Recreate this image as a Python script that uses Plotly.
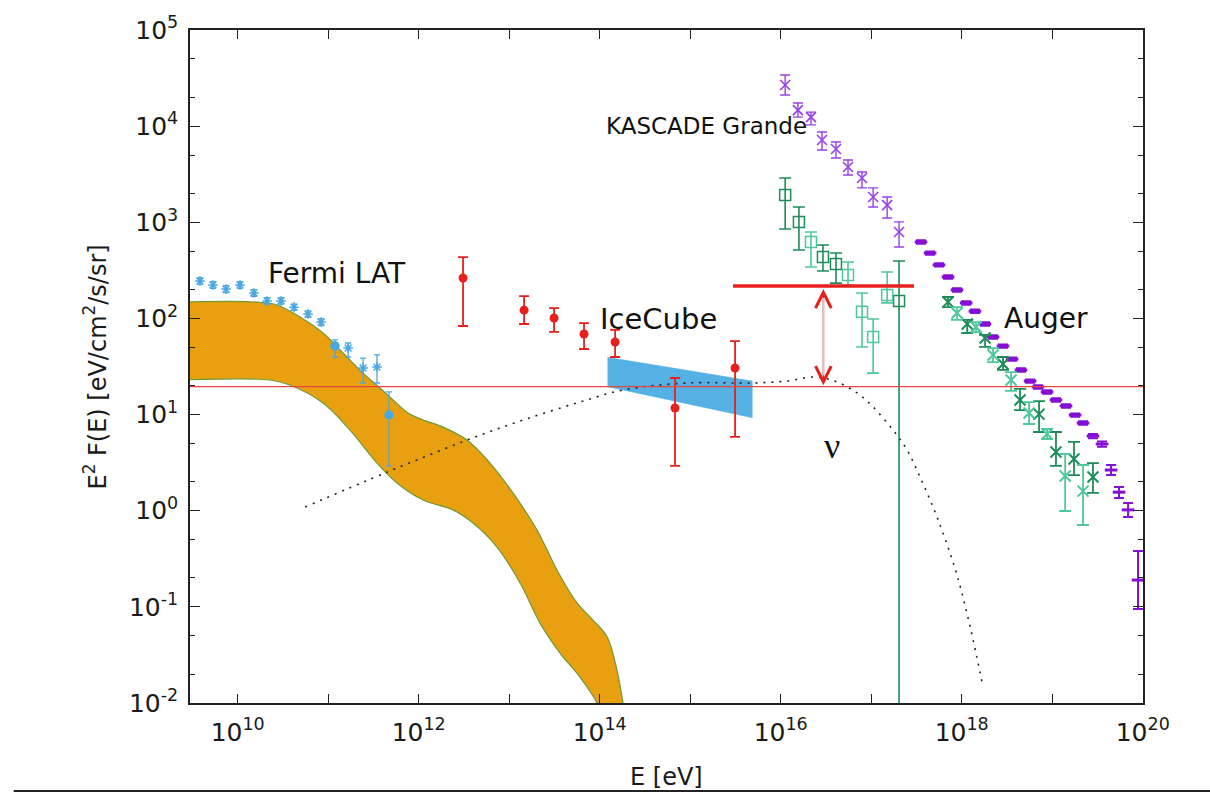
import numpy as np
import plotly.graph_objects as go

# ---------------- data ----------------
# Fermi LAT model band: upper and lower edges
fermi_up_E = [2.5e9, 1.63e10, 2.72e10, 4.88e10, 8.77e10, 1.46e11, 2.43e11, 3.73e11, 5.2e11, 7.43e11,
              1.12e12, 1.86e12, 3.42e12, 6.14e12, 1.10e13, 2.03e13, 3.37e13, 5.61e13, 8.43e13,
              1.21e14, 1.55e14, 1.81e14, 1.92e14]
fermi_up_F = [148, 148, 138, 103.5, 70.5, 43.7, 27, 18.9, 14.2, 10.6,
              8.77, 7.41, 5.43, 3.13, 1.53, 0.63, 0.242, 0.11, 0.0728,
              0.0485, 0.022, 0.01, 0.007]
fermi_lo_E = [2.5e9, 2.28e10, 3.78e10, 8.77e10, 1.74e11, 3.46e11, 5.75e11, 1.12e12, 2.39e12,
              3.98e12, 7.33e12, 1.32e13, 2.19e13, 3.64e13, 6.05e13, 9.33e13, 1.05e14]
fermi_lo_F = [22.9, 22.9, 20.3, 13.2, 6.9, 3.13, 1.94, 1.29, 1.02,
              0.745, 0.419, 0.177, 0.0678, 0.0331, 0.0186, 0.01, 0.007]

# Fermi LAT data points
fermi_E = [3.83e9, 5.33e9, 7.43e9, 1.06e10, 1.51e10, 2.11e10, 3.01e10, 4.19e10, 5.98e10, 8.34e10,
           1.19e11, 1.66e11, 2.43e11, 3.46e11, 4.70e11]
fermi_F = [245, 223, 202, 223, 184, 152, 152, 131, 111, 91.7, 51.6, 49.2, 30.5, 31.2, 9.9]
fermi_up = [20, 18, 17, 18, 15, 12, 12, 10, 9, 8, 8.1, 6.3, 8.2, 10.5, 7.3]
fermi_dn = [19, 17, 16, 17, 14, 11, 11, 9.5, 8.5, 7.5, 11.9, 9.5, 9.2, 9.9, 6.98]
fermi_sym = ["asterisk-open"] * 10 + ["circle", "asterisk-open", "asterisk-open", "asterisk-open", "circle"]

# IceCube data points
ice_E = [3.09e12, 1.46e13, 3.13e13, 6.71e13, 1.48e14, 6.79e14, 3.13e15]
ice_F = [263, 122, 101, 68.9, 56.9, 11.7, 30.5]
ice_up = [172, 49, 27, 20.6, 19.0, 12.3, 27.7]
ice_dn = [179.6, 34.5, 28.7, 20.8, 17.2, 8.78, 24.65]

# IceCube band
iceband_E = [1.22e14, 4.85e15]
iceband_up = [39.4, 22.3]
iceband_lo = [19.5, 9.27]

# neutrino model (dotted)
nu_E = [5.55e10, 4.47e11, 3.42e12, 1.42e13, 6.05e13, 1.81e14, 9.23e14, 4.94e15, 1.17e16, 2.39e16,
        4.19e16, 6.97e16, 1.05e17, 1.74e17, 2.49e17, 3.46e17, 4.82e17, 6.21e17, 8.87e17, 1.24e18, 1.72e18]
nu_F = [1.09, 2.52, 5.43, 8.77, 13.5, 18.0, 21.3, 21.3, 22.3, 24.6,
        21.8, 16.8, 12.0, 6.91, 4.28, 2.24, 1.09, 0.586, 0.214, 0.0617, 0.0147]

# KASCADE-Grande (purple x)
kgp_E = [1.12e16, 1.55e16, 2.16e16, 2.86e16, 4.08e16, 5.54e16, 7.91e16, 1.05e17, 1.50e17, 2.03e17]
kgp_F = [26800, 14700, 12400, 7180, 5780, 3760, 2890, 1830, 1510, 793]
kgp_up = [7200, 2700, 1600, 1510, 1060, 690, 450, 450, 320, 217]
kgp_dn = [5700, 2300, 2100, 1530, 1110, 660, 610, 390, 400, 240]

# KASCADE-Grande (green open squares)
kgg_E = [1.12e16, 1.59e16, 2.16e16, 2.93e16, 4.08e16, 5.54e16, 7.91e16, 1.05e17, 1.50e17, 2.03e17]
kgg_F = [1923, 1007, 624, 435, 368, 283, 117, 64.1, 175, 152]
kgg_up = [967, 436, 169, 146, 111, 103, 67, 34.5, 129, 243]
kgg_dn = [1072, 492, 281, 124, 135, 60, 66.5, 37.1, 30, 151.999]
kgg_dark = [1, 1, 0, 1, 1, 0, 0, 0, 0, 1]

# Auger (purple, dense)
augp_E = [3.55e17, 4.47e17, 5.61e17, 7.06e17, 8.87e17, 1.12e18, 1.40e18, 1.81e18, 2.22e18, 2.86e18,
          3.60e18, 4.52e18, 5.69e18, 6.97e18, 8.77e18, 1.10e19, 1.42e19, 1.79e19, 2.19e19, 2.82e19,
          3.55e19, 4.47e19, 5.47e19, 6.89e19, 8.87e19]
augp_F = [624, 479, 360, 270, 198, 145, 119, 87.5, 64.1, 51.6, 37.8, 29.1, 22.3, 19.4, 17.2, 14.2,
          12.3, 9.89, 8.17, 5.98, 4.94, 2.65, 1.56, 1.02, 0.190]
augp_up = [25, 19, 14, 11, 8, 6, 5, 3.5, 2.6, 2.1, 1.5, 1.2, 0.9, 0.8, 0.7, 0.6, 0.5, 0.4, 0.35,
           0.3, 0.3, 0.34, 0.20, 0.18, 0.191]
augp_dn = [25, 19, 14, 11, 8, 6, 5, 3.5, 2.6, 2.1, 1.5, 1.2, 0.9, 0.8, 0.7, 0.6, 0.5, 0.4, 0.35,
           0.3, 0.3, 0.3, 0.20, 0.16, 0.095]

# Auger (green)
augg_E = [7.06e17, 8.87e17, 1.15e18, 1.44e18, 1.81e18, 2.22e18, 2.86e18, 3.51e18, 4.41e18, 5.55e18,
          7.15e18, 8.77e18, 1.10e19, 1.39e19, 1.74e19, 2.19e19, 2.82e19]
augg_F = [148, 114, 87.5, 81.5, 62.5, 41.6, 33.6, 22.9, 14.2, 10.4, 10.1, 6.28, 4.08, 2.30, 3.45, 1.60, 2.24]
augg_up = [19, 17, 8.9, 10.1, 4.8, 7.6, 6.1, 4.8, 4.3, 3.1, 3.7, 0.8, 2.51, 1.59, 1.74, 1.39, 0.89]
augg_dn = [17, 17.6, 17, 9.3, 12, 6.4, 4.5, 5.3, 3.1, 2.42, 3.51, 0.71, 1.16, 1.307, 1.10, 0.89, 0.71]

# limits / reference lines
limit_E = [2.97e15, 2.97e17]
limit_F = 217
nu_level_F = 19.5
arrow_E = 2.96e16

# labels: (text, E, F, size, family)
SANS = "DejaVu Sans, Liberation Sans, sans-serif"
labels = [
    ("Fermi LAT", 1.25e11, 290, 28, SANS),
    ("IceCube", 4.41e14, 98.6, 29, SANS),
    ("KASCADE Grande", 1.50e15, 1.0e4, 23, SANS),
    ("Auger", 8.55e18, 101, 28, SANS),
    ("ν", 3.69e16, 4.71, 36, "Liberation Serif, serif"),
]

x_range = [9.473, 20.003]
y_range = [-2, 5]
x_major = [10.0 ** k for k in range(10, 21)]
x_text = ["10<sup>%d</sup>" % k if k % 2 == 0 else "" for k in range(10, 21)]
y_major = [10.0 ** k for k in range(-2, 6)]
y_text = ["10<sup>%d</sup>" % k for k in range(-2, 6)]
y_minor = [m * 10.0 ** k for k in range(-2, 5) for m in (2, 5)]

# ---------------- colours ----------------
ORANGE = "#E9A010"
BAND_EDGE = "#6E9A36"
LBLUE = "#4AA8E0"
ICEBLUE = "#55B0E4"
RED = "#E8201C"
PURP_K = "#9B3FE8"
PURP_A = "#8410D4"
GREEN_D = "#1E8C5A"
GREEN_L = "#4DC79B"

fig = go.Figure()

# Fermi band
fig.add_trace(go.Scatter(
    x=list(fermi_up_E) + list(fermi_lo_E)[::-1],
    y=list(fermi_up_F) + list(fermi_lo_F)[::-1],
    mode="lines", fill="toself", fillcolor=ORANGE, line_shape="spline",
    line=dict(color=BAND_EDGE, width=1.2, smoothing=1.0), hoverinfo="skip"))

# IceCube band
fig.add_trace(go.Scatter(
    x=list(iceband_E) + list(iceband_E)[::-1],
    y=list(iceband_up) + list(iceband_lo)[::-1],
    mode="lines", fill="toself", fillcolor=ICEBLUE,
    line=dict(color=ICEBLUE, width=0.5), hoverinfo="skip"))

# neutrino model dotted curve
fig.add_trace(go.Scatter(x=nu_E, y=nu_F, mode="lines", line_shape="spline",
                         line=dict(color="#222222", width=1.6, dash="2px,6px")))

def err(up, dn, color, w=4, t=1.5):
    return dict(type="data", symmetric=False, array=up, arrayminus=dn,
                color=color, thickness=t, width=w)

# Fermi points
fig.add_trace(go.Scatter(x=fermi_E, y=fermi_F, mode="markers",
                         marker=dict(symbol=fermi_sym, size=8, color=LBLUE,
                                     line=dict(color=LBLUE, width=1.5)),
                         error_y=err(fermi_up, fermi_dn, LBLUE, 3, 1.3)))

# IceCube points
fig.add_trace(go.Scatter(x=ice_E, y=ice_F, mode="markers",
                         marker=dict(symbol="circle", size=9, color=RED),
                         error_y=err(ice_up, ice_dn, RED, 5, 1.8)))

# KASCADE-Grande purple
fig.add_trace(go.Scatter(x=kgp_E, y=kgp_F, mode="markers",
                         marker=dict(symbol="x-thin-open", size=10, color=PURP_K,
                                     line=dict(color=PURP_K, width=1.6)),
                         error_y=err(kgp_up, kgp_dn, PURP_K, 5, 1.4)))

# KASCADE-Grande green (dark and light)
for flag, col in ((1, GREEN_D), (0, GREEN_L)):
    idx = [i for i, d in enumerate(kgg_dark) if d == flag]
    fig.add_trace(go.Scatter(
        x=[kgg_E[i] for i in idx], y=[kgg_F[i] for i in idx], mode="markers",
        marker=dict(symbol="square-open", size=11, color=col, line=dict(color=col, width=1.5)),
        error_y=err([kgg_up[i] for i in idx], [kgg_dn[i] for i in idx], col, 6, 1.6)))

# Auger purple
fig.add_trace(go.Scatter(x=augp_E, y=augp_F, mode="markers",
                         marker=dict(symbol="line-ew-open", size=9, color=PURP_A,
                                     line=dict(color=PURP_A, width=3)),
                         error_y=err(augp_up, augp_dn, PURP_A, 5, 2)))

# Auger green (alternating shades)
for parity, col in ((0, GREEN_D), (1, GREEN_L)):
    idx = [i for i in range(len(augg_E)) if i % 2 == parity]
    fig.add_trace(go.Scatter(
        x=[augg_E[i] for i in idx], y=[augg_F[i] for i in idx], mode="markers",
        marker=dict(symbol="x-thin-open", size=11, color=col, line=dict(color=col, width=2)),
        error_y=err([augg_up[i] for i in idx], [augg_dn[i] for i in idx], col, 6, 1.8)))

# thick red upper-limit line
fig.add_trace(go.Scatter(x=limit_E, y=[limit_F, limit_F], mode="lines",
                         line=dict(color=RED, width=3.5)))

shapes = [
    dict(type="line", xref="paper", x0=0, x1=1, yref="y",
         y0=nu_level_F, y1=nu_level_F,
         line=dict(color="#E8473F", width=1.2), layer="above"),
    dict(type="line", xref="paper", x0=-0.185, x1=1.071, yref="paper", y0=-0.1308, y1=-0.1308,
         line=dict(color="#222222", width=2)),
]

ax_font = dict(family=SANS, size=25, color="#1a1a1a")
annotations = []
for text, e, f, size, fam in labels:
    annotations.append(dict(x=np.log10(e), y=np.log10(f), xref="x", yref="y", text=text,
                            showarrow=False, xanchor="center", yanchor="middle",
                            font=dict(family=fam, size=size, color="#111111")))
# double arrow between the limit and the neutrino level
annotations.append(dict(x=np.log10(arrow_E), y=np.log10(limit_F), ax=np.log10(arrow_E),
                        ay=np.log10(nu_level_F), xref="x", yref="y", axref="x", ayref="y",
                        text="", showarrow=True, arrowside="end+start", arrowhead=5,
                        startarrowhead=5, arrowsize=2.2, startarrowsize=2.2, arrowwidth=1.4,
                        arrowcolor=RED, standoff=3, startstandoff=0))
annotations.append(dict(x=np.log10(arrow_E), y=np.log10(limit_F), ax=np.log10(arrow_E),
                        ay=np.log10(nu_level_F), xref="x", yref="y", axref="x", ayref="y",
                        text="", showarrow=True, arrowhead=0, arrowwidth=2.2,
                        arrowcolor="#D9C4C4", standoff=12, startstandoff=10))
# axis titles
annotations.append(dict(x=-0.0997, y=0.5, xref="paper", yref="paper", textangle=-90,
                        text="E<sup>2</sup> F(E) [eV/cm<sup>2</sup>/s/sr]", showarrow=False,
                        xanchor="center", yanchor="middle",
                        font=dict(family=SANS, size=24, color="#1a1a1a")))
annotations.append(dict(x=0.5, y=-0.11, xref="paper", yref="paper", text="E [eV]",
                        showarrow=False, xanchor="center", yanchor="middle",
                        font=dict(family=SANS, size=24, color="#1a1a1a")))

fig.update_layout(
    width=1210, height=793,
    margin=dict(l=190, r=67, t=30, b=90),
    paper_bgcolor="white", plot_bgcolor="white",
    showlegend=False,
    shapes=shapes, annotations=annotations,
    xaxis=dict(type="log", range=x_range, tickmode="array", tickvals=x_major, ticktext=x_text,
               ticks="inside", ticklen=9, tickwidth=1.3, tickcolor="#222222",
               showline=True, linecolor="#222222", linewidth=1.6, mirror="ticks",
               showgrid=False, zeroline=False, tickfont=ax_font, ticklabelstandoff=6),
    yaxis=dict(type="log", range=y_range, tickmode="array", tickvals=y_major, ticktext=y_text,
               ticks="inside", ticklen=10, tickwidth=1.3, tickcolor="#222222",
               minor=dict(tickmode="array", tickvals=y_minor, ticks="inside", ticklen=5,
                          tickwidth=1.1, tickcolor="#222222", showgrid=False),
               showline=True, linecolor="#222222", linewidth=1.6, mirror="ticks",
               showgrid=False, zeroline=False, tickfont=ax_font, ticklabelstandoff=5),
)

fig.write_html("out.html")
